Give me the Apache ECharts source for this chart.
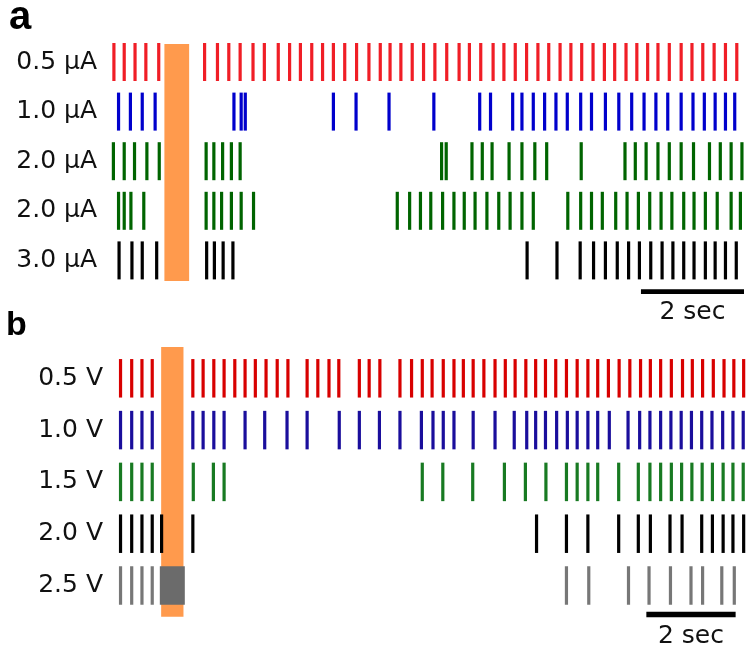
<!DOCTYPE html>
<html><head><meta charset="utf-8">
<script src="https://cdn.jsdelivr.net/npm/echarts@6/dist/echarts.min.js"></script>
<style>html,body{margin:0;padding:0;background:#fff}#c{width:753px;height:654px}</style>
</head><body><div id="c"></div>
<script>
// ---- Data (spike times in seconds) ----
const labelsA = ['0.5 \u03bcA', '1.0 \u03bcA', '2.0 \u03bcA', '2.0 \u03bcA', '3.0 \u03bcA'];
const labelsB = ['0.5 V', '1.0 V', '1.5 V', '2.0 V', '2.5 V'];

const spikesA1 = [0.27,0.47,0.68,0.89,1.14,2.03,2.28,2.50,2.72,2.97,3.19,3.46,3.68,3.89,4.11,4.32,4.53,4.75,4.98,5.22,5.44,5.63,5.84,6.06,6.28,6.50,6.73,6.97,7.17,7.39,7.63,7.84,8.06,8.28,8.50,8.71,8.93,9.14,9.35,9.57,9.79,9.99,10.21,10.42,10.63,10.83,11.05,11.28,11.49,11.70,11.92,12.14,12.36];
const spikesA2 = [0.36,0.59,0.82,1.07,2.60,2.74,2.82,4.53,4.97,5.61,6.48,7.37,7.58,8.01,8.19,8.41,8.63,8.85,9.07,9.33,9.54,9.81,10.07,10.32,10.56,10.79,11.02,11.28,11.51,11.73,11.94,12.14,12.32];
const spikesA3 = [0.26,0.47,0.67,0.91,1.15,2.06,2.21,2.38,2.55,2.72,6.63,6.72,7.22,7.42,7.61,7.94,8.19,8.44,8.67,9.34,10.19,10.39,10.60,10.83,11.05,11.28,11.52,11.83,12.04,12.25,12.46];
const spikesA4 = [0.36,0.47,0.60,0.85,2.06,2.21,2.36,2.55,2.74,2.98,5.77,6.01,6.22,6.42,6.65,6.87,7.07,7.28,7.51,7.74,7.96,8.19,8.41,9.08,9.33,9.54,9.75,10.01,10.23,10.45,10.67,10.89,11.10,11.33,11.53,11.75,11.98,12.25,12.43];
const spikesA5 = [0.37,0.62,0.82,1.10,2.07,2.22,2.39,2.58,8.29,8.87,9.32,9.58,9.81,10.04,10.26,10.47,10.69,10.91,11.12,11.33,11.53,11.75,11.94,12.14,12.35];

const spikesB1 = [0.46,0.71,0.94,1.17,2.08,2.31,2.55,2.78,3.02,3.25,3.48,3.72,3.97,4.21,4.64,4.88,5.13,5.35,5.81,6.03,6.27,6.72,6.98,7.22,7.44,7.69,7.93,8.14,8.36,8.60,8.85,9.08,9.30,9.54,9.76,9.98,10.21,10.45,10.69,10.93,11.15,11.39,11.63,11.87,12.11,12.33,12.56,12.80,13.05,13.27,13.50,13.74,13.98,14.20,14.42];
const spikesB2 = [0.46,0.71,0.94,1.17,2.08,2.31,2.55,2.78,3.25,3.69,4.19,4.64,5.36,5.81,6.26,6.72,7.20,7.46,7.69,7.93,8.36,8.85,9.28,9.56,9.76,9.98,10.23,10.47,10.69,10.93,11.15,11.41,11.83,12.09,12.32,12.56,12.79,13.02,13.25,13.48,13.71,13.95,14.18,14.41];
const spikesB3 = [0.46,0.71,0.94,1.17,2.09,2.54,2.78,7.22,7.68,8.35,9.06,9.53,9.99,10.45,10.69,10.93,11.15,11.62,12.06,12.32,12.56,12.80,13.03,13.26,13.49,13.72,13.96,14.18,14.41];
const spikesB4 = [0.46,0.71,0.94,1.17,1.38,2.08,9.78,10.45,10.93,11.62,12.06,12.33,12.77,13.04,13.48,13.72,13.96,14.18,14.42];
const spikesB5 = [0.46,0.71,0.94,1.17,10.45,10.95,11.84,12.30,12.78,13.24,13.50,13.93,14.21];

const stimA = [1.25, 1.73];
const stimB = [1.37, 1.87];
const blockB = [1.34, 1.90];      // grey block on the 2.5 V row
const scaleBarA = [10.5, 12.5];
const scaleBarB = [12.24, 14.24];
const scaleText = '2 sec';

// ---- Styles ----
const colorsA = ['#f01e26', '#0000cc', '#006400', '#006400', '#000000'];
const colorsB = ['#d80000', '#1a0e9c', '#187a22', '#000000', '#777777'];
const ORANGE = '#ff9a4d';
const FONT = 'DejaVu Sans';

const spikesA = [spikesA1, spikesA2, spikesA3, spikesA4, spikesA5];
const spikesB = [spikesB1, spikesB2, spikesB3, spikesB4, spikesB5];

function tickSeries(gi, times, row, color, tickH, w) {
  return {
    type: 'custom', xAxisIndex: gi, yAxisIndex: gi, z: 5, clip: false,
    data: times.map(t => [t, row]),
    renderItem: (p, api) => {
      const c = api.coord([api.value(0), api.value(1)]);
      return { type: 'rect', shape: { x: c[0] - w / 2, y: c[1] - tickH / 2, width: w, height: tickH },
               style: { fill: color } };
    }
  };
}
function bandSeries(gi, range, rowFrom, rowTo, tickH, padTop, padBot, color, z) {
  return {
    type: 'custom', xAxisIndex: gi, yAxisIndex: gi, z: z, clip: false,
    data: [[range[0], range[1]]],
    renderItem: (p, api) => {
      const x0 = api.coord([api.value(0), rowFrom])[0];
      const x1 = api.coord([api.value(1), rowFrom])[0];
      const y0 = api.coord([api.value(0), rowFrom])[1] - tickH / 2 - padTop;
      const y1 = api.coord([api.value(0), rowTo])[1] + tickH / 2 + padBot;
      return { type: 'rect', shape: { x: x0, y: y0, width: x1 - x0, height: y1 - y0 }, style: { fill: color } };
    }
  };
}
function scaleSeries(gi, range, barOff, thick, textOff) {
  return {
    type: 'custom', xAxisIndex: gi, yAxisIndex: gi, z: 6, clip: false,
    data: [[range[0], range[1]]],
    renderItem: (p, api) => {
      const a = api.coord([api.value(0), 4]);
      const b = api.coord([api.value(1), 4]);
      const yb = a[1] + barOff;
      return { type: 'group', children: [
        { type: 'rect', shape: { x: a[0], y: yb - thick / 2, width: b[0] - a[0], height: thick }, style: { fill: '#000' } },
        { type: 'text', style: { text: scaleText, x: (a[0] + b[0]) / 2, y: a[1] + textOff, align: 'center', verticalAlign: 'middle',
          font: '25px "' + FONT + '"', fill: '#111' } }
      ]};
    }
  };
}

const series = [];
series.push(bandSeries(0, stimA, 0, 4, 38, -1, 1.5, ORANGE, 7));
spikesA.forEach((s, i) => series.push(tickSeries(0, s, i, colorsA[i], 38, 3.2)));
series.push(scaleSeries(0, scaleBarA, 31.2, 4.8, 52.5));
series.push(bandSeries(1, stimB, 0, 4, 38.5, 12, 12, ORANGE, 2));
spikesB.forEach((s, i) => series.push(tickSeries(1, s, i, colorsB[i], 38.5, 3.2)));
series.push(bandSeries(1, blockB, 4, 4, 38.5, 0, 0, '#6b6b6b', 8));
series.push(scaleSeries(1, scaleBarB, 29, 5.5, 50.5));

const yAxisBase = (labels, margin) => ({
  type: 'category', data: labels, inverse: true, boundaryGap: true,
  axisLine: { show: false }, axisTick: { show: false }, splitLine: { show: false },
  axisLabel: { margin: margin, fontSize: 25, fontFamily: FONT, color: '#111' }
});

const option = {
  animation: false,
  backgroundColor: '#fff',
  title: [
    { text: 'a', left: 9, top: -2, padding: 0, textStyle: { fontSize: 40, fontWeight: 'bold', fontFamily: 'Liberation Sans', color: '#000' } },
    { text: 'b', left: 6, top: 309, padding: 0, textStyle: { fontSize: 34, fontWeight: 'bold', fontFamily: 'Liberation Sans', color: '#000' } }
  ],
  grid: [
    { left: 100, top: 37.2, width: 644, height: 248 },
    { left: 100, top: 352.4, width: 645, height: 259 }
  ],
  xAxis: [
    { type: 'value', gridIndex: 0, min: 0, max: 12.5, show: false },
    { type: 'value', gridIndex: 1, min: 0, max: 14.45, show: false }
  ],
  yAxis: [
    Object.assign({ gridIndex: 0 }, yAxisBase(labelsA, 3)),
    Object.assign({ gridIndex: 1 }, yAxisBase(labelsB, -3))
  ],
  series: series
};
const chart = echarts.init(document.getElementById('c'), null, { renderer: 'canvas' });
chart.setOption(option);
</script>
</body></html>
